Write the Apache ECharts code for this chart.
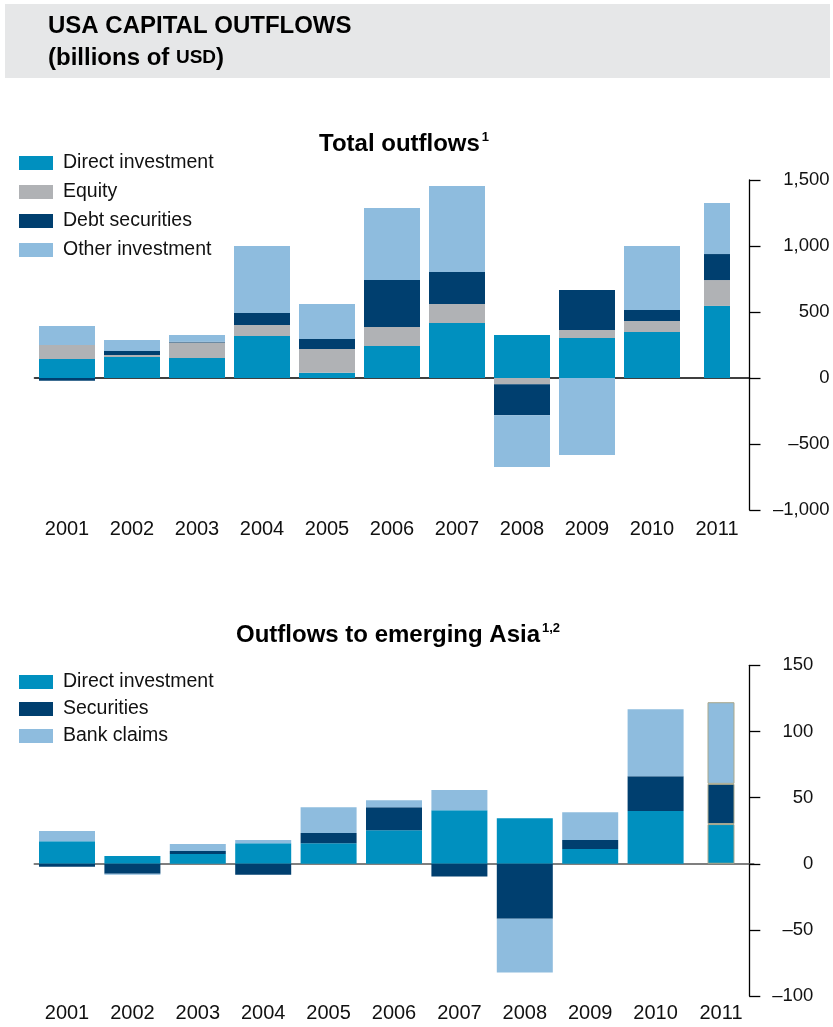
<!DOCTYPE html>
<html><head><meta charset="utf-8">
<script src="https://cdn.jsdelivr.net/npm/echarts@6/dist/echarts.min.js"></script>
<style>html,body{margin:0;padding:0;background:#fff}#c{width:833px;height:1027px}</style>
</head><body><div id="c"></div>
<script>
// ---- data ----
const years = ['2001','2002','2003','2004','2005','2006','2007','2008','2009','2010','2011'];
// Total outflows (billions of USD)
const totalDirect = [144, 159, 152, 318, 40, 242, 417, 326, 303, 349, 546];
const totalEquity = [106, 15, 116, 84, 180, 144, 144, -48, 61, 83, 196];
const totalDebt   = [-20, 31, 7, 90, 76, 356, 242, -235, 303, 83, 197];
const totalOther  = [144, 83, 51, 508, 265, 546, 652, -392, -584, 485, 387];
// Outflows to emerging Asia (billions of USD)
const asiaDirect     = [17.1, 5.8, 7.3, 15.6, 15.6, 25.4, 40.5, 34.5, 11.1, 39.8, 30.0];
const asiaSecurities = [-2.3, -7.6, 2.3, -8.3, 7.6, 17.4, -9.6, -41.5, 6.8, 26.4, 30.4];
const asiaBank       = [7.6, -0.7, 5.3, 2.3, 19.6, 5.3, 15.2, -40.6, 21.1, 50.6, 61.7];
// axis ticks
const totalAxis = {min: -1000, max: 1500, interval: 500};
const asiaAxis  = {min: -100, max: 150, interval: 50};

const FONT = '"Liberation Sans", Arial, Helvetica, sans-serif';
const C = {direct:'#0090bf', equity:'#b0b2b5', debt:'#003f6f', other:'#8ebcde'};
const partialIdx = years.length - 1; // 2011 drawn as a narrower bar

function fmt(v){
  const s = Math.abs(v).toString().replace(/\B(?=(\d{3})+(?!\d))/g, ',');
  return v < 0 ? '\u2013' + s : s;
}
function bars(name, vals, color, g, partial){
  const style = {color: color};
  if (partial && g === 1) { style.borderColor = '#a9a88c'; style.borderWidth = 1; }
  return {
    type:'bar', name: name, xAxisIndex: g*2 + (partial ? 1 : 0), yAxisIndex: g,
    stack: 'g' + g + (partial ? 'p' : 'm'),
    barWidth: partial ? (g ? 27 : 26) : 56,
    itemStyle: style, silent: true,
    data: vals.map((v,i) => ((i === partialIdx) === partial) ? v : '-')
  };
}
const series = [];
[[ 'Direct investment', totalDirect, C.direct],
 [ 'Equity', totalEquity, C.equity],
 [ 'Debt securities', totalDebt, C.debt],
 [ 'Other investment', totalOther, C.other]].forEach(d => series.push(bars(d[0], d[1], d[2], 0, false)));
[[ 'Direct investment', asiaDirect, C.direct],
 [ 'Securities', asiaSecurities, C.debt],
 [ 'Bank claims', asiaBank, C.other]].forEach(d => series.push(bars(d[0], d[1], d[2], 1, false)));
[[ 'Direct investment', totalDirect, C.direct],
 [ 'Equity', totalEquity, C.equity],
 [ 'Debt securities', totalDebt, C.debt],
 [ 'Other investment', totalOther, C.other]].forEach(d => series.push(bars(d[0], d[1], d[2], 0, true)));
[[ 'Direct investment', asiaDirect, C.direct],
 [ 'Securities', asiaSecurities, C.debt],
 [ 'Bank claims', asiaBank, C.other]].forEach(d => series.push(bars(d[0], d[1], d[2], 1, true)));

function labelAxis(g, margin){
  return {gridIndex:g, type:'category', data:years, position:'bottom',
    axisLine:{show:false, onZero:false}, axisTick:{show:false},
    axisLabel:{fontSize:20, margin:margin, color:'#111', fontFamily:FONT}};
}
function zeroAxis(g, color){
  return {gridIndex:g, type:'category', data:years, position:'bottom',
    axisLine:{show:true, onZero:true, lineStyle:{color:color, width:1.6}},
    axisTick:{show:false}, axisLabel:{show:false}, splitLine:{show:false}};
}
function valAxis(g, ax, margin, offset){
  return {gridIndex:g, type:'value', position:'right', offset:offset,
    min:ax.min, max:ax.max, interval:ax.interval,
    axisLine:{show:true, lineStyle:{color:'#000', width:1.3}},
    axisTick:{show:true, length:11, lineStyle:{color:'#000', width:1.3}},
    splitLine:{show:false},
    axisLabel:{align:'right', margin:margin, fontSize:18.5, color:'#111', fontFamily:FONT, formatter:fmt}};
}
function legend(names, top, gap){
  return {data:names, orient:'vertical', left:19, top:top, itemWidth:34, itemHeight:14, itemGap:gap,
    icon:'rect', selectedMode:false, padding:0,
    textStyle:{fontSize:19.5, lineHeight:19, color:'#111', fontFamily:FONT, padding:[0,0,0,5]}};
}
function titleRich(){
  return {t:{fontSize:24, fontWeight:'bold', color:'#000', fontFamily:FONT, lineHeight:26},
          s:{fontSize:13, fontWeight:'bold', color:'#000', fontFamily:FONT, verticalAlign:'top', lineHeight:14, padding:[0,0,0,2]}};
}

const chart = echarts.init(document.getElementById('c'), null, {renderer:'canvas'});
chart.setOption({
  animation:false,
  textStyle:{fontFamily:FONT},
  title:[
    {text:'{t|Total outflows}{s|1}', left:319, top:131, padding:0, textStyle:{rich:titleRich()}},
    {text:'{t|Outflows to emerging Asia}{s|1,2}', left:236, top:622, padding:0, textStyle:{rich:titleRich()}}
  ],
  legend:[
    legend(['Direct investment','Equity','Debt securities','Other investment'], 153, 9),
    legend(['Direct investment','Securities','Bank claims'], 672, 7)
  ],
  grid:[
    {left:34.5, width:715, top:180, height:330, containLabel:false, outerBoundsMode:'none'},
    {left:34.3, width:719.4, top:665.3, height:330.8, containLabel:false, outerBoundsMode:'none'}
  ],
  xAxis:[labelAxis(0, 9), zeroAxis(0, '#000'), labelAxis(1, 7), zeroAxis(1, '#555')],
  yAxis:[valAxis(0, totalAxis, 80, 0), valAxis(1, asiaAxis, 64, -4.4)],
  graphic:[
    {type:'rect', left:5, top:4, shape:{width:825, height:74}, style:{fill:'#e6e7e8'}, silent:true, z:-1},
    {type:'text', left:48, top:14, style:{text:'USA CAPITAL OUTFLOWS', fill:'#000',
      font:'bold 24px ' + FONT}},
    {type:'text', left:48, top:46, style:{text:'{a|(billions of }{b|USD}{a|)}', fill:'#000',
      rich:{a:{fontSize:24, fontWeight:'bold', fontFamily:FONT, lineHeight:28},
            b:{fontSize:19, fontWeight:'bold', fontFamily:FONT, lineHeight:28}}}}
  ],
  series: series
});
</script></body></html>
